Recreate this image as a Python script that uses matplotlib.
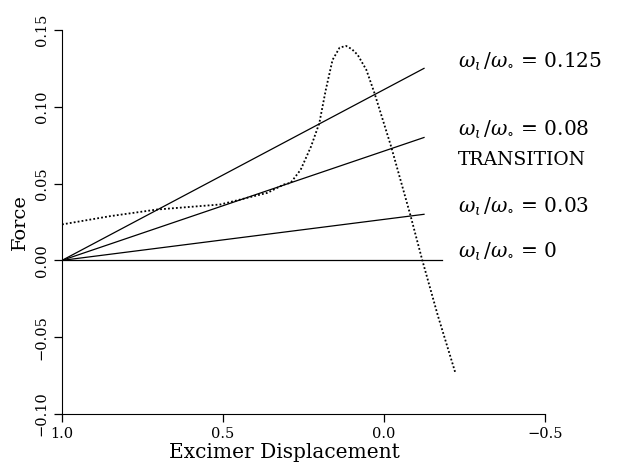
import numpy as np
import matplotlib
matplotlib.use("Agg")
import matplotlib.pyplot as plt

# ratios w1/w0 and the force each straight line reaches at its right end
ratios = ["0.125", "0.08", "0.03", "0"]
line_end_force = [0.125, 0.08, 0.03, 0.0]
line_end_x = [-0.124, -0.124, -0.124, -0.18]

# dotted transition curve
curve_x = [1.0, 0.85, 0.705, 0.508, 0.362, 0.311, 0.29, 0.259, 0.227, 0.201,
           0.181, 0.16, 0.138, 0.118, 0.1, 0.082, 0.055, 0.03, -0.022, -0.082,
           -0.118, -0.167, -0.221]
curve_y = [0.0234, 0.0288, 0.0331, 0.0364, 0.044, 0.0494, 0.0505, 0.059, 0.074,
           0.0894, 0.111, 0.1305, 0.1385, 0.1396, 0.1375, 0.1338, 0.124, 0.109,
           0.074, 0.0292, 0.0006, -0.036, -0.073]

label_y = [0.129, 0.085, 0.035, 0.0052]

plt.rcParams['font.family'] = ['DejaVu Serif']
plt.rcParams['mathtext.fontset'] = 'dejavuserif'

fig = plt.figure(figsize=(6.23, 4.68), dpi=100)
ax = fig.add_axes([0.0995, 0.1154, 0.7755, 0.8206])

for xe, fe in zip(line_end_x, line_end_force):
    ax.plot([1.0, xe], [0.0, fe], color='black', lw=0.9)

ax.plot(curve_x, curve_y, color='black', lw=1.3, ls=(0, (1, 1.2)))

for r, ly in zip(ratios, label_y):
    ax.text(-0.23, ly, r'$\omega_{\iota}\,/\omega_{\circ}$ = ' + r, fontsize=14.5,
            va='center', ha='left', clip_on=False)
ax.text(-0.23, 0.0656, 'TRANSITION', fontsize=13.5, va='center', ha='left',
        clip_on=False)

ax.set_xlim(1.0, -0.5)
ax.set_ylim(-0.10, 0.15)
ax.set_xticks([1.0, 0.5, 0.0, -0.5])
ax.set_xticklabels(['1.0', '0.5', '0.0', '\u22120.5'])
ax.set_yticks([-0.10, -0.05, 0.0, 0.05, 0.10, 0.15])
ax.set_yticklabels(['\u22120.10', '\u22120.05', '0.00', '0.05', '0.10', '0.15'],
                   rotation=90, va='center')
ax.tick_params(labelsize=10.5, length=6, width=0.9, direction='out')
ax.spines['top'].set_visible(False)
ax.spines['right'].set_visible(False)
ax.set_xlabel('Excimer Displacement', fontsize=14.5, labelpad=2)
ax.xaxis.set_label_coords(0.46, -0.075)
ax.set_ylabel('Force', fontsize=14, labelpad=4)

fig.savefig('out.png', dpi=100)
